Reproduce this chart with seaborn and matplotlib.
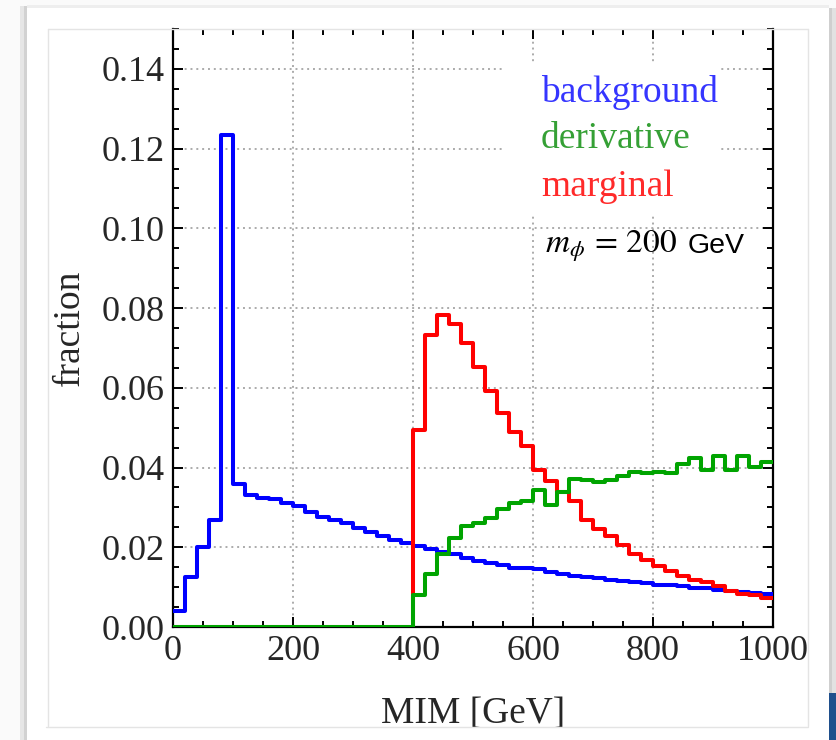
import numpy as np
import pandas as pd
import matplotlib
matplotlib.use("Agg")
import matplotlib.pyplot as plt
import seaborn as sns
from matplotlib.patches import Rectangle
from matplotlib.lines import Line2D
from matplotlib.ticker import MultipleLocator

# ---------------- data ----------------
bin_edges = [float(v) for v in range(0, 1001, 20)]

background = [0.0041, 0.0126, 0.0201, 0.0269, 0.1235,
              0.0358, 0.0330, 0.0324, 0.0321, 0.0311,
              0.0303, 0.0288, 0.0276, 0.0268, 0.0261,
              0.0249, 0.0238, 0.0228, 0.0219, 0.0211,
              0.0203, 0.0195, 0.0187, 0.0183, 0.0173,
              0.0166, 0.0161, 0.0155, 0.0148, 0.0147,
              0.0146, 0.0137, 0.0133, 0.0128, 0.0125,
              0.0124, 0.0118, 0.0116, 0.0114, 0.0111,
              0.0106, 0.0106, 0.0103, 0.0099, 0.0097,
              0.0093, 0.0091, 0.0088, 0.0086, 0.0084]

derivative = [0.0] * 20 + [0.0080, 0.0134, 0.0182, 0.0222, 0.0253,
                           0.0262, 0.0273, 0.0297, 0.0312, 0.0316,
                           0.0344, 0.0305, 0.0338, 0.0371, 0.0368,
                           0.0363, 0.0369, 0.0378, 0.0390, 0.0387,
                           0.0390, 0.0386, 0.0409, 0.0423, 0.0394,
                           0.0428, 0.0393, 0.0429, 0.0401, 0.0415]

marginal = [0.0] * 20 + [0.0494, 0.0732, 0.0782, 0.0759, 0.0713,
                         0.0653, 0.0593, 0.0537, 0.0488, 0.0455,
                         0.0393, 0.0366, 0.0338, 0.0315, 0.0269,
                         0.0247, 0.0228, 0.0205, 0.0182, 0.0169,
                         0.0153, 0.0141, 0.0128, 0.0118, 0.0112,
                         0.0103, 0.0090, 0.0084, 0.0080, 0.0072]

series_names = ["background", "derivative", "marginal"]
line_colors = {"background": "#0000ff", "derivative": "#00a400", "marginal": "#ff0000"}
text_colors = {"background": "#3535ff", "derivative": "#35a035", "marginal": "#ff2a2a"}
draw_order = ["background", "marginal", "derivative"]

xticks = [0, 200, 400, 600, 800, 1000]
yticks = [0.00, 0.02, 0.04, 0.06, 0.08, 0.10, 0.12, 0.14]
xlabel = "MIM [GeV]"
ylabel = "fraction"
mass_math = r"$m_\phi\,=\,200$"
mass_unit = "GeV"

edges_arr = np.array(bin_edges)
centers = (edges_arr[:-1] + edges_arr[1:]) / 2
df = pd.DataFrame({
    "MIM": np.tile(centers, 3),
    "fraction": background + derivative + marginal,
    "series": np.repeat(series_names, len(centers)),
})

# ---------------- style ----------------
sns.set_style("white")
plt.rcParams["font.family"] = ["Liberation Serif", "DejaVu Serif"]
plt.rcParams["mathtext.fontset"] = "stix"

W, H = 836, 740
fig = plt.figure(figsize=(W / 100, H / 100), dpi=100, facecolor="#fafafa")


def fig_rect(x0, y0, x1, y1, color, z=-10):
    r = Rectangle((x0 / W, 1 - y1 / H), (x1 - x0) / W, (y1 - y0) / H,
                  transform=fig.transFigure, facecolor=color, edgecolor="none",
                  zorder=z)
    fig.add_artist(r)


def fig_line(x0, y0, x1, y1, color="#e4e4e4", lw=1.0, z=-5):
    fig.add_artist(Line2D([x0 / W, x1 / W], [1 - y0 / H, 1 - y1 / H],
                          transform=fig.transFigure, color=color, lw=lw, zorder=z))


# slide panel with shadow
fig_rect(20, 6, 24, 740, "#e6e6e6")
fig_rect(24, 6, 27, 740, "#d2d2d2")
fig_rect(27, 5, 829, 8, "#eeeeee")
fig_rect(27, 8, 829, 740, "#ffffff")
fig_rect(829, 8, 832, 693, "#cfcfcf")
fig_rect(832, 8, 836, 693, "#e2e2e2")
fig_rect(829, 693, 836, 740, "#1f4f8c")

ax = fig.add_axes([173 / W, 1 - 627 / H, 600 / W, 598 / H])
ax.set_facecolor("white")
ax.set_axisbelow(True)

for name in draw_order:
    sns.histplot(data=df[df["series"] == name], x="MIM", weights="fraction",
                 bins=bin_edges, element="step", fill=False,
                 color=line_colors[name], linewidth=2.9, ax=ax, legend=False,
                 zorder=3)

ax.set_xlim(0, 1000)
ax.set_ylim(0, 0.15)
ax.set_xticks(xticks)
ax.set_yticks(yticks)
ax.set_xticklabels([str(t) for t in xticks])
ax.set_yticklabels([f"{t:.2f}" for t in yticks])
ax.xaxis.set_minor_locator(MultipleLocator(50))
ax.yaxis.set_minor_locator(MultipleLocator(0.005))

ax.tick_params(which="both", direction="in", top=True, right=True,
               bottom=True, left=True, color="black", width=1.4)
ax.tick_params(which="major", length=7)
ax.tick_params(which="minor", length=4)
ax.tick_params(axis="both", which="major", labelsize=26, pad=6)

for s in ["left", "right", "bottom"]:
    ax.spines[s].set_color("black")
    ax.spines[s].set_linewidth(1.6)
ax.spines["top"].set_visible(False)

ax.grid(True, which="major", color="#ababab", linewidth=1.4,
        linestyle=(0, (1, 2)))

# white box behind legend labels
ax.add_patch(Rectangle((553, 0.1033), 355, 0.0384, facecolor="white",
                       edgecolor="none", zorder=1.5))

legend_y = [0.1318, 0.1202, 0.1081]
for name, yy in zip(series_names, legend_y):
    ax.text(613, yy, name, color=text_colors[name], fontsize=27,
            va="baseline", ha="left", zorder=4)

ax.text(620, 0.0939, mass_math, fontsize=24, color="black",
        va="baseline", ha="left", zorder=4)
ax.text(857, 0.0939, mass_unit, fontsize=20.5, color="black",
        family=["Liberation Sans", "DejaVu Sans"],
        va="baseline", ha="left", zorder=4)

ax.set_xlabel(xlabel, fontsize=27)
ax.set_ylabel(ylabel, fontsize=27)
ax.xaxis.set_label_coords(0.5, -(697 - 627) / 598)
ax.yaxis.set_label_coords((87 - 173) / 600, 0.5)

# inner image border lines
fig_line(48, 29, 808, 29, z=5)
fig_line(48, 29, 48, 726)
fig_line(808, 29, 808, 726)
fig_rect(27, 727, 829, 740, "#ffffff", z=20)
fig_line(46, 726.5, 808, 726.5, z=21)

fig.savefig("out.png", dpi=100, facecolor=fig.get_facecolor())
